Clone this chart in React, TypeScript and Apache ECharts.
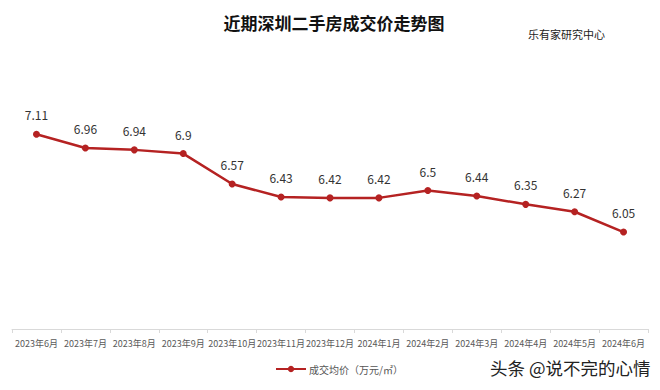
import React, { useEffect, useRef } from "react";
import * as echarts from "echarts";

const categories = [
  "2023年6月", "2023年7月", "2023年8月", "2023年9月", "2023年10月", "2023年11月",
  "2023年12月", "2024年1月", "2024年2月", "2024年3月", "2024年4月", "2024年5月", "2024年6月",
];
const prices = [7.11, 6.96, 6.94, 6.9, 6.57, 6.43, 6.42, 6.42, 6.5, 6.44, 6.35, 6.27, 6.05];
const seriesName = "成交均价（万元/㎡）";
const titleText = "近期深圳二手房成交价走势图";
const sourceText = "乐有家研究中心";
const watermark = "头条 @说不完的心情";

const FONT = "'Noto Sans CJK SC', 'Noto Sans', sans-serif";

export default function App() {
  const ref = useRef<HTMLDivElement>(null);
  useEffect(() => {
    if (!ref.current) return;
    const chart = echarts.init(ref.current, undefined, { renderer: "svg" });
    chart.setOption({
      animation: false,
      backgroundColor: "#ffffff",
      textStyle: { fontFamily: FONT },
      title: [
        {
          text: titleText,
          left: 329,
          top: 9,
          textAlign: "center",
          textStyle: { fontSize: 17, fontWeight: "bold", color: "#111", fontFamily: FONT },
        },
        {
          text: sourceText,
          left: 523,
          top: 23,
          textStyle: { fontSize: 11, fontWeight: "normal", color: "#222", fontFamily: FONT },
        },
      ],
      legend: {
        bottom: 11,
        left: 270,
        itemWidth: 30,
        itemHeight: 8,
        itemGap: 4,
        textStyle: { fontSize: 10, color: "#555", fontFamily: FONT, padding: [0, 0, 0, -2] },
        data: [seriesName],
      },
      grid: { left: 12, right: 12, top: 52, bottom: 61, containLabel: false },
      xAxis: {
        type: "category",
        data: categories,
        boundaryGap: true,
        axisLine: { show: true, lineStyle: { color: "#d9d9d9", width: 1 } },
        axisTick: { show: true, length: 4, lineStyle: { color: "#d9d9d9" } },
        axisLabel: { interval: 0, fontSize: 9, color: "#595959", margin: 10, fontFamily: FONT },
      },
      yAxis: {
        type: "value",
        min: 5,
        max: 8,
        show: false,
        splitLine: { show: false },
      },
      series: [
        {
          name: seriesName,
          type: "line",
          data: prices,
          symbol: "circle",
          symbolSize: 7,
          lineStyle: { color: "#b52222", width: 2.5 },
          itemStyle: { color: "#b52222" },
          label: {
            show: true,
            position: "top",
            distance: 10,
            fontSize: 12,
            color: "#333",
            fontFamily: FONT,
          },
        },
      ],
      graphic: [
        {
          type: "text",
          left: 490,
          top: 359,
          style: { text: watermark, fontSize: 17.5, fill: "#222", fontFamily: FONT },
        },
        {
          type: "rect",
          left: 0,
          top: 385,
          shape: { width: 660, height: 5 },
          style: { fill: "#eeeeee" },
        },
      ],
    });
    return () => chart.dispose();
  }, []);
  return <div ref={ref} style={{ width: 660, height: 390, margin: -8 }} />;
}
